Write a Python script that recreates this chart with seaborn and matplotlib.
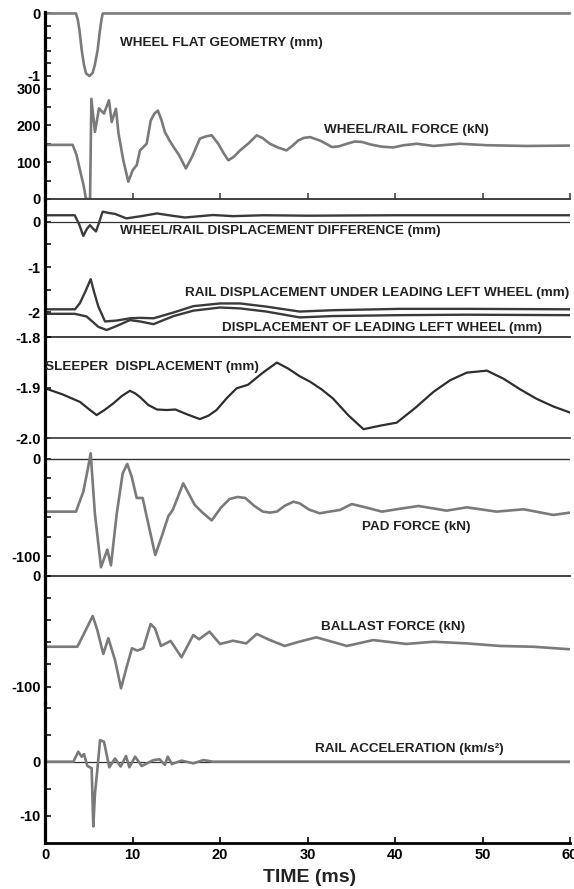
import numpy as np
import pandas as pd
import matplotlib
matplotlib.use("Agg")
import matplotlib.pyplot as plt
import seaborn as sns

# ---------------- data ----------------
flat_t = [0, 3.54, 3.75, 3.95, 4.19, 4.45, 4.7, 5.07, 5.45, 5.7, 6.02, 6.25, 6.45, 6.6, 60]
flat_v = [0, 0, -0.1, -0.28, -0.58, -0.82, -0.96, -1.0, -0.95, -0.82, -0.58, -0.3, -0.1, 0, 0]

force_t = [0, 3.16, 3.6, 4.0, 4.4, 4.69, 5.15, 5.3, 5.71, 6.17, 6.74, 7.31, 7.62, 8.11,
           8.4, 8.95, 9.52, 10.02, 10.48, 10.86, 11.62, 12.08, 12.5, 12.9, 13.3, 13.7,
           14.2, 14.7, 15.3, 16.1, 16.8, 17.7, 18.4, 19.05, 19.8, 20.4, 20.95, 21.6,
           22.3, 23.3, 24.2, 24.9, 25.7, 26.6, 27.6, 28.3, 28.95, 29.6, 30.3, 31.5,
           32.8, 33.6, 34.5, 35.4, 36.2, 37.2, 38.5, 39.8, 41.0, 42.5, 44.4, 47.4,
           50.5, 55, 60]
force_v = [147, 147, 120, 78, 38, 0, 0, 272, 182, 246, 232, 268, 209, 245,
           178, 105, 47, 78, 92, 132, 150, 213, 232, 240, 215, 182,
           160, 141, 120, 83, 114, 164, 170, 173, 150, 125, 105, 115,
           132, 152, 173, 165, 150, 140, 132, 145, 159, 166, 168, 158,
           141, 143, 150, 156, 155, 148, 142, 140, 146, 150, 144, 150,
           146, 144, 145]

dd_t = [0, 3.4, 3.9, 4.38, 4.8, 5.14, 5.5, 5.83, 6.2, 6.59, 7.3, 8.0, 9.3, 11.0,
        12.8, 14.5, 16.0, 19.2, 21.5, 25, 30, 40, 50, 60]
dd_v = [0.15, 0.15, -0.05, -0.31, -0.15, -0.07, -0.15, -0.21, 0.0, 0.23, 0.2, 0.18,
        0.08, 0.13, 0.19, 0.14, 0.1, 0.155, 0.13, 0.15, 0.14, 0.15, 0.15, 0.15]

rail_t = [0, 3.43, 4.0, 4.6, 5.22, 5.6, 6.1, 6.86, 8.2, 9.7, 10.86, 12.4, 14.7,
          16.95, 20.0, 22.3, 25.3, 29.1, 32.9, 40.6, 48.2, 60]
rail_v = [-1.94, -1.94, -1.80, -1.55, -1.27, -1.55, -1.88, -2.21, -2.19, -2.14,
          -2.13, -2.14, -2.01, -1.87, -1.81, -1.81, -1.88, -1.99, -1.96, -1.93,
          -1.93, -1.94]

wheel_t = [0, 3.4, 4.76, 6.1, 7.05, 8.2, 9.7, 10.86, 12.4, 14.7, 16.95, 20.0,
           22.3, 25.3, 29.1, 32.9, 40.6, 48.2, 60]
wheel_v = [-2.04, -2.04, -2.10, -2.33, -2.40, -2.31, -2.18, -2.21, -2.27, -2.09,
           -1.97, -1.90, -1.92, -1.99, -2.12, -2.09, -2.07, -2.06, -2.07]

sleep_t = [0, 2.0, 4.0, 5.0, 5.9, 6.8, 7.8, 8.8, 9.7, 10.3, 10.9, 11.8, 12.8, 13.9,
           14.9, 16.3, 17.7, 18.7, 19.6, 20.8, 21.9, 23.2, 24.9, 26.5, 27.8, 29.1,
           30.3, 31.6, 32.9, 34.7, 36.4, 38.3, 40.2, 42.3, 44.4, 46.3, 48.2, 50.5,
           52.4, 54.3, 56.2, 58.1, 60]
sleep_v = [-1.901, -1.913, -1.928, -1.942, -1.954, -1.944, -1.931, -1.916, -1.906,
           -1.911, -1.919, -1.934, -1.943, -1.944, -1.943, -1.953, -1.962, -1.955,
           -1.944, -1.920, -1.901, -1.894, -1.870, -1.850, -1.862, -1.877, -1.888,
           -1.903, -1.921, -1.955, -1.982, -1.975, -1.969, -1.940, -1.908, -1.885,
           -1.870, -1.866, -1.882, -1.903, -1.922, -1.937, -1.949]

pad_t = [0, 3.54, 4.38, 4.9, 5.22, 5.7, 6.4, 7.12, 7.54, 8.2, 8.88, 9.4, 9.9, 10.48,
         11.16, 11.62, 12.6, 13.33, 14.1, 14.6, 15.8, 16.4, 17.1, 18.0, 19.05, 20.1,
         21.1, 22.0, 22.9, 23.9, 24.9, 25.7, 26.5, 27.4, 28.4, 29.1, 30.2, 31.4,
         32.5, 33.7, 35.05, 36.8, 38.5, 40.6, 42.7, 45.9, 48.2, 51.6, 54.7, 58.1, 60]
pad_v = [-54, -54, -33.5, -10, 5.8, -56, -111, -93, -109, -56, -14.7, -5.1, -18,
         -40, -40, -59, -98.5, -79.7, -58.5, -52.3, -25, -35, -47, -55, -63, -50,
         -41, -39, -40, -48, -54, -55, -54, -48, -43.8, -45.5, -52, -55.7,
         -54, -52.3, -46.2, -50, -54, -51, -48.2, -53, -49.6, -54, -51.6, -57.4, -55]

ball_t = [0, 3.7, 4.38, 5.45, 5.98, 6.66, 7.24, 8.0, 8.69, 9.34, 9.94, 10.55, 11.23,
          12.07, 12.57, 13.26, 14.36, 15.6, 16.95, 17.6, 18.8, 20.0, 21.5, 23.0,
          24.2, 25.7, 27.4, 28.95, 31.0, 34.5, 37.5, 41.3, 44.4, 48.2, 52.0, 55.8, 60]
ball_v = [-64, -64, -53.4, -36.3, -49, -70.5, -56.4, -76, -101.4, -82, -65.4, -67.5,
          -65.4, -43.5, -47.4, -63.3, -58.8, -73.5, -53.4, -57.3, -50.4, -61.5,
          -58.6, -61, -52.5, -58, -63.3, -59.7, -55.5, -63.3, -58, -61.5, -59.5,
          -61, -63.3, -64, -66.3]

acc_t = [0, 3.24, 3.8, 4.19, 4.46, 4.84, 5.33, 5.52, 5.71, 5.98, 6.29, 6.74, 7.35,
         8.0, 8.65, 9.26, 9.64, 10.3, 11.05, 12.4, 13.1, 13.7, 14.02, 14.5, 15.6,
         16.95, 18.1, 19.2, 60]
acc_v = [0, 0, 1.85, 0.93, 1.4, -0.8, -1.2, -12, -5.9, -1.5, 4.0, 3.7, -1.04, 0.6,
         -0.9, 1.05, -1.04, 0.93, -0.8, 0.3, 0.44, -0.6, 0.93, -0.43, 0.2, -0.3,
         0.3, 0, 0]

x_ticks = [0, 10, 20, 30, 40, 50, 60]

# ---------------- style ----------------
sns.set_style("ticks")
plt.rcParams['font.family'] = ['Liberation Sans', 'DejaVu Sans']
plt.rcParams['font.weight'] = 'bold'
plt.rcParams['axes.labelweight'] = 'bold'

W, H = 574, 889
fig = plt.figure(figsize=(W / 100, H / 100), dpi=100)
L, R = 45, 570

GRAY = '#7a7a7a'
DARK = '#333333'
TICK_FS = 10.5


def add_panel(top, bottom, ylim, yticks, ylabels, minor, bottom_line=None):
    ax = fig.add_axes([L / W, 1 - bottom / H, (R - L) / W, (bottom - top) / H])
    ax.set_xlim(0, 60)
    ax.set_ylim(*ylim)
    ax.patch.set_alpha(0)
    for s in ['top', 'right']:
        ax.spines[s].set_visible(False)
    ax.spines['left'].set_linewidth(2.3)
    ax.spines['left'].set_color('black')
    if bottom_line is None:
        ax.spines['bottom'].set_visible(False)
    else:
        ax.spines['bottom'].set_linewidth(bottom_line[0])
        ax.spines['bottom'].set_color(bottom_line[1])
    ax.set_yticks(yticks)
    ax.set_yticklabels(ylabels)
    ax.set_yticks(minor, minor=True)
    ax.tick_params(axis='y', which='both', direction='in', length=4, width=1.1,
                   labelsize=TICK_FS, pad=3, colors='black')
    ax.set_xticks([])
    ax.set_xlabel('')
    ax.set_ylabel('')
    return ax


def draw(ax, t, v, color, lw):
    df = pd.DataFrame({'t': t, 'v': v})
    sns.lineplot(data=df, x='t', y='v', ax=ax, color=color, linewidth=lw,
                 estimator=None, sort=False, legend=False)
    ax.set_xlabel('')
    ax.set_ylabel('')


# Panel 1: wheel flat
ax1 = add_panel(11.6, 88.5, (-1.2, 0.03), [0, -1], ['0', '-1'],
                [-0.2, -0.4, -0.6, -0.8])
draw(ax1, flat_t, flat_v, GRAY, 1.9)
for ln in ax1.lines:
    ln.set_clip_on(False)

# Panel 2: wheel/rail force
ax2 = add_panel(88.5, 199, (0, 300), [0, 100, 200, 300], ['0', '100', '200', '300'],
                [50, 150, 250], bottom_line=(1.3, DARK))
draw(ax2, force_t, force_v, GRAY, 1.9)
ax2.set_xticks(x_ticks)
ax2.tick_params(axis='x', direction='in', length=4, width=1.1, labelbottom=False,
                colors=DARK)

# Panel 3: displacements
ax3 = add_panel(199, 337.3, (-2.562, 0.511), [0, -1, -2], ['0', '-1', '-2'],
                [-0.5, -1.5], bottom_line=(1.3, DARK))
ax3.axhline(0, color=DARK, lw=0.9)
draw(ax3, dd_t, dd_v, '#3a3a3a', 1.7)
draw(ax3, rail_t, rail_v, '#3a3a3a', 1.7)
draw(ax3, wheel_t, wheel_v, '#3a3a3a', 1.7)

# Panel 4: sleeper
ax4 = add_panel(337.3, 438.3, (-2.0, -1.8), [-1.8, -1.9, -2.0], ['-1.8', '-1.9', '-2.0'],
                [], bottom_line=(1.3, '#444444'))
draw(ax4, sleep_t, sleep_v, '#2e2e2e', 1.6)

# Panel 5: pad force
ax5 = add_panel(438.3, 575.7, (-119.7, 21.2), [0, -100], ['0', '-100'],
                [-20, -40, -60, -80], bottom_line=(1.3, DARK))
ax5.axhline(0, color=DARK, lw=1.0)
draw(ax5, pad_t, pad_v, GRAY, 1.9)

# Panel 6a: ballast force
ax6 = add_panel(575.7, 703, (-114.7, 0), [0, -100], ['0', '-100'],
                [-20, -40, -60, -80])
draw(ax6, ball_t, ball_v, GRAY, 1.9)

# Panel 6b: rail acceleration
ax7 = add_panel(703, 842.7, (-15, 10.87), [0, -10], ['0', '-10'],
                [10, 5, -5], bottom_line=(2.0, 'black'))
ax7.axhline(0, color=DARK, lw=0.9)
draw(ax7, acc_t, acc_v, GRAY, 1.9)
ax7.set_xticks(x_ticks)
ax7.set_xticklabels([str(v) for v in x_ticks])
ax7.tick_params(axis='x', direction='in', length=4, width=1.2, labelsize=TICK_FS,
                pad=4, colors='black')
for lab in ax7.get_xticklabels() + ax7.get_yticklabels():
    lab.set_fontweight('bold')

# ---------------- annotations ----------------
def ftext(x, y, s, size=9.7, ha='left'):
    fig.text(x / W, 1 - y / H, s, ha=ha, va='center', fontsize=size,
             fontweight='bold', color='#222222')

ftext(120, 43, 'WHEEL FLAT GEOMETRY (mm)')
ftext(324, 130, 'WHEEL/RAIL FORCE (kN)')
ftext(120, 231, 'WHEEL/RAIL DISPLACEMENT DIFFERENCE (mm)')
ftext(185, 293, 'RAIL DISPLACEMENT UNDER LEADING LEFT WHEEL (mm)')
ftext(222, 328.5, 'DISPLACEMENT OF LEADING LEFT WHEEL (mm)')
ftext(45, 367, 'SLEEPER  DISPLACEMENT (mm)')
ftext(362, 527, 'PAD FORCE (kN)')
ftext(321, 627, 'BALLAST FORCE (kN)')
ftext(315, 749, 'RAIL ACCELERATION (km/s\u00b2)')
ftext(310, 877, 'TIME (ms)', size=14, ha='center')

fig.savefig('out.png', dpi=100)
